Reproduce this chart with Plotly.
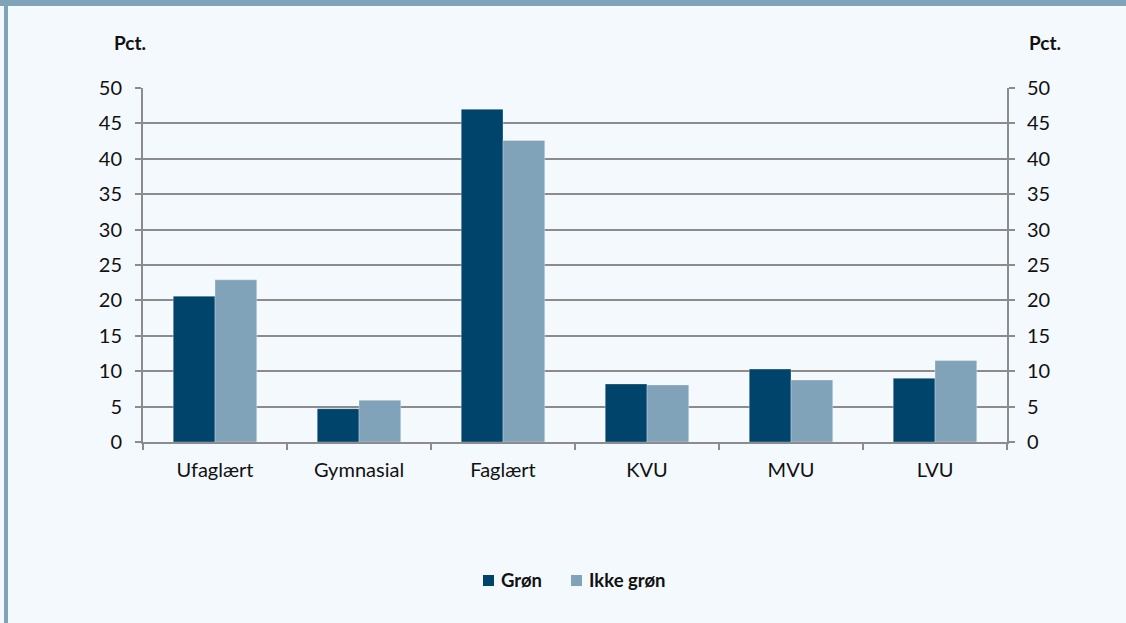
import plotly.graph_objects as go

categories = ["Ufaglært", "Gymnasial", "Faglært", "KVU", "MVU", "LVU"]
gron = [20.6, 4.7, 47.0, 8.2, 10.3, 9.0]
ikke_gron = [22.9, 5.9, 42.6, 8.05, 8.75, 11.5]
y_ticks = [0, 5, 10, 15, 20, 25, 30, 35, 40, 45, 50]
series_names = ["Grøn", "Ikke grøn"]

W, H = 1126, 623
L, R, T, B = 143, 1007, 88, 442
BG = "#F4F9FD"
BAND = "#7FA3B8"
DARK = "#01446B"
LIGHT = "#80A3B9"
GRID = "#8C8C8C"
FONT = "Lato"
TXT = "#111111"

def px(x):
    return (x - L) / (R - L)

def py(y):
    return (B - y) / (B - T)

fig = go.Figure()
fig.add_bar(x=categories, y=gron, name=series_names[0],
            marker=dict(color=DARK, line=dict(color="rgba(255,255,255,0.6)", width=0.5)))
fig.add_bar(x=categories, y=ikke_gron, name=series_names[1],
            marker=dict(color=LIGHT, line=dict(color="rgba(255,255,255,0.6)", width=0.5)))
fig.add_scatter(x=categories, y=gron, yaxis="y2", mode="markers", marker=dict(opacity=0),
                showlegend=False, hoverinfo="skip")

axis_common = dict(range=[0, 50], tickvals=y_ticks, ticks="outside", ticklen=6, tickwidth=2,
                   tickcolor=GRID, showline=True, linecolor=GRID, linewidth=2,
                   tickfont=dict(family=FONT, size=20, color=TXT), zeroline=False)

fig.update_layout(
    width=W, height=H,
    margin=dict(l=L, r=W - R, t=T, b=H - B),
    paper_bgcolor=BG, plot_bgcolor=BG,
    barmode="group", bargap=0.42, bargroupgap=0,
    font=dict(family=FONT, size=20, color=TXT),
    xaxis=dict(showline=True, linecolor=GRID, linewidth=2, ticks="outside", ticklen=6, tickwidth=2,
               tickcolor=GRID, tickson="boundaries", showgrid=False, ticklabelstandoff=9,
               tickfont=dict(family=FONT, size=20, color=TXT)),
    yaxis=dict(showgrid=True, gridcolor=GRID, gridwidth=2, ticklabelstandoff=9, **axis_common),
    yaxis2=dict(overlaying="y", side="right", showgrid=False, ticklabelstandoff=8, **axis_common),
    showlegend=False,
)

# custom legend (square + bold label) matching reference spacing
legend_items = [(series_names[0], DARK, 483), (series_names[1], LIGHT, 571)]
for name, col, x0 in legend_items:
    fig.add_shape(type="rect", xref="paper", yref="paper", x0=px(x0), x1=px(x0 + 11),
                  y0=py(586), y1=py(575), fillcolor=col, line=dict(width=0))
    fig.add_annotation(text=f"<b>{name}</b>", xref="paper", yref="paper", x=px(x0 + 16), y=py(580),
                       xanchor="left", yanchor="middle", showarrow=False,
                       font=dict(family=FONT, size=18.5, color=TXT))

fig.add_annotation(text="<b>Pct.</b>", xref="paper", yref="paper", x=px(130), y=py(43),
                   xanchor="center", yanchor="middle", showarrow=False,
                   font=dict(family=FONT, size=19, color=TXT))
fig.add_annotation(text="<b>Pct.</b>", xref="paper", yref="paper", x=px(1045), y=py(43),
                   xanchor="center", yanchor="middle", showarrow=False,
                   font=dict(family=FONT, size=19, color=TXT))

# frame: top band and left border
fig.add_shape(type="rect", xref="paper", yref="paper", x0=px(0), x1=px(W), y0=py(6), y1=py(0),
              fillcolor=BAND, line=dict(width=0), layer="above")
fig.add_shape(type="rect", xref="paper", yref="paper", x0=px(4), x1=px(8), y0=py(H), y1=py(0),
              fillcolor=BAND, line=dict(width=0), layer="above")

fig.write_html(
    "out.html", config={"displayModeBar": False},
    post_script=("document.documentElement.style.overflow='hidden';"
                 "document.body.style.margin='0';document.body.style.overflow='hidden';"),
)
